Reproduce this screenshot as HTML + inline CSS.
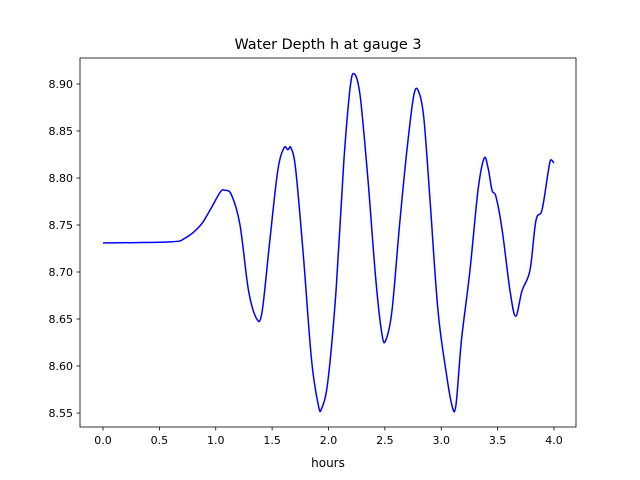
<!DOCTYPE html>
<html><head><meta charset="utf-8"><style>
body{margin:0;background:#fff}
svg{display:block;font-family:"DejaVu Sans","Liberation Sans",sans-serif}
</style></head><body>
<svg id="chart" width="640" height="480">
<rect x="0" y="0" width="640" height="480" fill="#fff"/>
<text x="328" y="49" text-anchor="middle" font-size="14.4">Water Depth h at gauge 3</text>
<g id="axes"></g>
<text x="328" y="467" text-anchor="middle" font-size="12">hours</text>
</svg>
<script>
const hours=[0,0.594,0.727,0.86,0.95,1.04,1.08,1.14,1.215,1.29,1.36,1.41,1.48,1.55,1.605,1.64,1.667,1.71,1.78,1.85,1.91,1.94,1.996,2.067,2.137,2.19,2.226,2.28,2.35,2.42,2.475,2.51,2.564,2.634,2.705,2.76,2.803,2.847,2.9,2.97,3.04,3.095,3.13,3.18,3.255,3.326,3.38,3.415,3.45,3.486,3.54,3.61,3.66,3.716,3.787,3.84,3.894,3.95,3.97,4.0];
const depth=[8.731,8.732,8.736,8.749,8.766,8.785,8.787,8.782,8.75,8.681,8.651,8.657,8.734,8.808,8.832,8.83,8.832,8.808,8.713,8.606,8.558,8.555,8.585,8.681,8.819,8.894,8.911,8.888,8.798,8.691,8.633,8.628,8.66,8.755,8.84,8.89,8.891,8.862,8.777,8.66,8.596,8.558,8.558,8.628,8.702,8.787,8.821,8.811,8.787,8.78,8.745,8.68,8.653,8.68,8.702,8.755,8.766,8.808,8.819,8.816];
const xTicks=[0,0.5,1,1.5,2,2.5,3,3.5,4];
const xTickLabels=["0.0","0.5","1.0","1.5","2.0","2.5","3.0","3.5","4.0"];
const yTicks=[8.55,8.6,8.65,8.7,8.75,8.8,8.85,8.9];
const yTickLabels=["8.55","8.60","8.65","8.70","8.75","8.80","8.85","8.90"];
const L=80,R=576,T=58,B=427;
const sx=t=>103+t*112.75;
const sy=v=>84+(8.90-v)/0.05*47;
const NS="http://www.w3.org/2000/svg";
const g=document.getElementById('axes');
function mk(tag,attrs){const e=document.createElementNS(NS,tag);for(const k in attrs)e.setAttribute(k,attrs[k]);g.appendChild(e);return e;}
const P=hours.map((h,i)=>[sx(h),sy(depth[i])]);
let d="M"+P[0][0].toFixed(1)+" "+P[0][1].toFixed(1);
for(let i=0;i<P.length-1;i++){
  const p0=P[Math.max(0,i-1)],p1=P[i],p2=P[i+1],p3=P[Math.min(P.length-1,i+2)];
  const c1=[p1[0]+(p2[0]-p0[0])/6,p1[1]+(p2[1]-p0[1])/6];
  const c2=[p2[0]-(p3[0]-p1[0])/6,p2[1]-(p3[1]-p1[1])/6];
  d+="C"+c1[0].toFixed(1)+" "+c1[1].toFixed(1)+" "+c2[0].toFixed(1)+" "+c2[1].toFixed(1)+" "+p2[0].toFixed(1)+" "+p2[1].toFixed(1);
}
const line=mk('path',{d:d,fill:'none',stroke:'#0000ff','stroke-width':1.5,'stroke-linejoin':'round'});


const frame=mk('rect',{x:L,y:T,width:R-L,height:B-T,fill:'none',stroke:'#000','stroke-width':0.8});


xTicks.forEach((t,i)=>{
  const tk=mk('line',{x1:sx(t),x2:sx(t),y1:B,y2:B+3.5,stroke:'#000','stroke-width':0.8});
  
  
  const tx=mk('text',{x:sx(t),y:B+17,'text-anchor':'middle','font-size':11});
  tx.textContent=xTickLabels[i];
  
  
});
yTicks.forEach((v,i)=>{
  const tk=mk('line',{x1:L-3.5,x2:L,y1:sy(v),y2:sy(v),stroke:'#000','stroke-width':0.8});
  
  
  const tx=mk('text',{x:L-7,y:sy(v)+4,'text-anchor':'end','font-size':11});
  tx.textContent=yTickLabels[i];
  
  
});
</script>
</body></html>
